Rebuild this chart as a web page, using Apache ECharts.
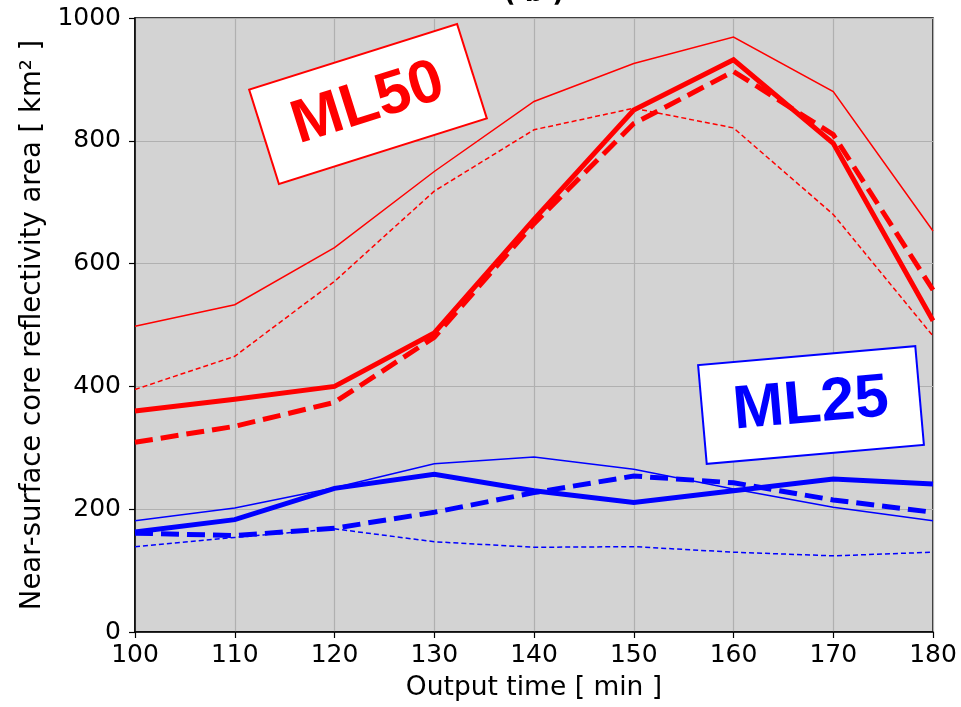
<!DOCTYPE html>
<html>
<head>
<meta charset="utf-8">
<title>Near-surface core reflectivity area</title>
<script src="https://cdn.jsdelivr.net/npm/echarts@6/dist/echarts.min.js"></script>
<style>
  html, body { margin: 0; padding: 0; background: #ffffff; }
  #chart { width: 961px; height: 707px; }
</style>
</head>
<body>
<div id="chart"></div>
<script>
// Output times [min]
const times = [100, 110, 120, 130, 140, 150, 160, 170, 180];

// ML50 experiment (red)
const ml50Solid      = [360, 379, 400, 487, 672, 850, 932, 796, 507];
const ml50Dashed     = [309, 335, 374, 480, 665, 828, 913, 810, 557];
const ml50UpperThin  = [498, 533, 626, 750, 864, 926, 969, 880, 653];
const ml50LowerThin  = [395, 449, 571, 718, 818, 853, 821, 680, 482];

// ML25 experiment (blue)
const ml25Solid      = [163, 183, 234, 257, 230, 211, 230, 249, 241];
const ml25Dashed     = [161, 157, 169, 195, 227, 254, 243, 215, 195];
const ml25UpperThin  = [181, 202, 235, 274, 285, 265, 233, 203, 181];
const ml25LowerThin  = [139, 154, 168, 147, 138, 139, 130, 124, 130];

const yTicks = [0, 200, 400, 600, 800, 1000];
const xTicks = times;

const FONT = 'DejaVu Sans';

function pairs(vals) {
  return times.map((t, i) => [t, vals[i]]);
}

function line(name, vals, color, width, dash) {
  return {
    name: name,
    type: 'line',
    data: pairs(vals),
    symbol: 'none',
    silent: true,
    animation: false,
    lineStyle: { color: color, width: width, type: dash || 'solid', cap: 'butt', join: 'miter' }
  };
}

// Rotated annotation label: white box with coloured frame around bold text
function tagBox(label, color, cx, cy, angleDeg) {
  return {
    type: 'text',
    x: cx, y: cy,
    rotation: angleDeg * Math.PI / 180,
    z: 100,
    style: {
      text: label, fill: color,
      fontFamily: 'Liberation Sans', fontWeight: 'bold', fontStyle: 'normal', fontSize: 61,
      align: 'center', verticalAlign: 'middle',
      width: 160, height: 60, lineHeight: 60,
      backgroundColor: '#ffffff', borderColor: color, borderWidth: 2,
      padding: [19, 28, 18, 28]
    }
  };
}

const chart = echarts.init(document.getElementById('chart'), null, { renderer: 'canvas' });

chart.setOption({
  animation: false,
  backgroundColor: '#ffffff',
  grid: {
    left: 135, right: 28, top: 18, bottom: 74,
    show: true, backgroundColor: '#d3d3d3', borderColor: '#000000', borderWidth: 1.5
  },
  xAxis: {
    type: 'value', min: 100, max: 180, interval: 10,
    name: 'Output time [ min ]', nameLocation: 'middle', nameGap: 43,
    nameTextStyle: { fontFamily: FONT, fontSize: 26.5, color: '#000' },
    axisLine: { show: true, lineStyle: { color: '#000', width: 1.5 } },
    axisTick: { show: true, inside: false, length: 6, lineStyle: { color: '#000', width: 1.2 } },
    axisLabel: { fontFamily: FONT, fontSize: 25, color: '#000', margin: 11,
                 formatter: v => (xTicks.indexOf(v) >= 0 ? String(v) : '') },
    splitLine: { show: true, lineStyle: { color: '#b0b0b0', width: 1.2 } }
  },
  yAxis: {
    type: 'value', min: 0, max: 1000, interval: 200,
    name: 'Near-surface core reflectivity area [ km\u00B2 ]', nameLocation: 'middle', nameGap: 88,
    nameRotate: 90,
    nameTextStyle: { fontFamily: FONT, fontSize: 27.5, color: '#000' },
    axisLine: { show: true, lineStyle: { color: '#000', width: 1.5 } },
    axisTick: { show: true, inside: false, length: 6, lineStyle: { color: '#000', width: 1.2 } },
    axisLabel: { fontFamily: FONT, fontSize: 25, color: '#000', margin: 14,
                 formatter: v => (yTicks.indexOf(v) >= 0 ? String(v) : '') },
    splitLine: { show: true, lineStyle: { color: '#b0b0b0', width: 1.2 } }
  },
  series: [
    line('ML50 upper', ml50UpperThin, '#ff0000', 1.5),
    line('ML50 lower', ml50LowerThin, '#ff0000', 1.5, [5, 3]),
    line('ML50', ml50Solid, '#ff0000', 5),
    line('ML50 dashed', ml50Dashed, '#ff0000', 5, [18, 8]),
    line('ML25 upper', ml25UpperThin, '#0000ff', 1.5),
    line('ML25 lower', ml25LowerThin, '#0000ff', 1.5, [5, 3]),
    line('ML25', ml25Solid, '#0000ff', 5),
    line('ML25 dashed', ml25Dashed, '#0000ff', 5, [18, 8])
  ],
  graphic: [
    { type: 'text', x: 534, y: -19, z: 5,
      style: { text: '( b )', fill: '#000', fontFamily: FONT, fontWeight: 'bold', fontSize: 26,
               align: 'center', verticalAlign: 'top' } },
    tagBox('ML50', '#ff0000', 368, 104, 17.5),
    tagBox('ML25', '#0000ff', 811, 405, 5)
  ]
});
</script>
</body>
</html>
